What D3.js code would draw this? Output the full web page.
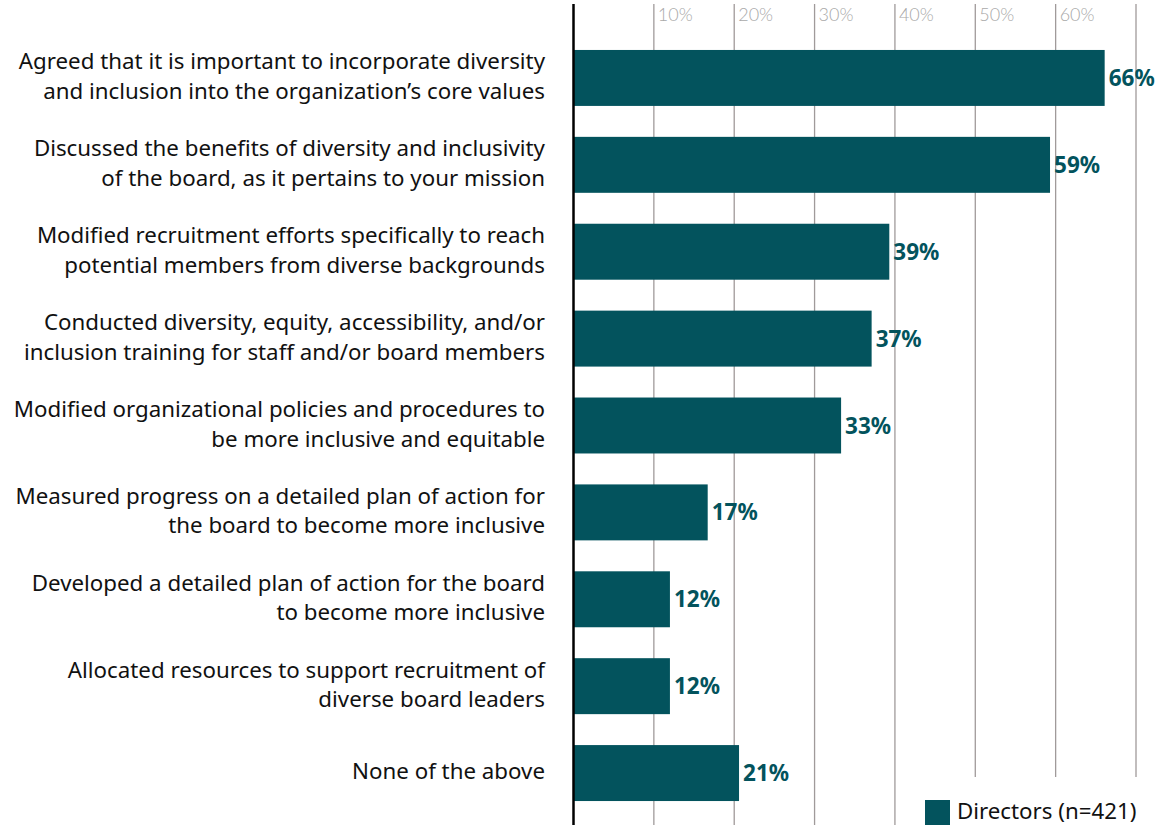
<!DOCTYPE html>
<html><head><meta charset="utf-8">
<script src="https://cdn.jsdelivr.net/npm/d3@7"></script>
<style>body{margin:0;background:#fff;} svg{display:block;}</style>
</head><body>
<svg id="chart" width="1158" height="827"></svg>
<script>
const categories = [
  ["Agreed that it is important to incorporate diversity", "and inclusion into the organization\u2019s core values"],
  ["Discussed the benefits of diversity and inclusivity", "of the board, as it pertains to your mission"],
  ["Modified recruitment efforts specifically to reach", "potential members from diverse backgrounds"],
  ["Conducted diversity, equity, accessibility, and/or", "inclusion training for staff and/or board members"],
  ["Modified organizational policies and procedures to", "be more inclusive and equitable"],
  ["Measured progress on a detailed plan of action for", "the board to become more inclusive"],
  ["Developed a detailed plan of action for the board", "to become more inclusive"],
  ["Allocated resources to support recruitment of", "diverse board leaders"],
  ["None of the above"]
];
const values = [66.1, 59.3, 39.3, 37.1, 33.3, 16.7, 12.0, 12.0, 20.6];
const tickValues = [10, 20, 30, 40, 50, 60, 70];
const tickLabels = ["10%", "20%", "30%", "40%", "50%", "60%", ""];
const seriesName = "Directors (n=421)";

const color = "#03535d";
const svg = d3.select("#chart");
const x = d3.scaleLinear().domain([0, 70]).range([573.5, 1136]);
const y = d3.scaleBand().domain(d3.range(categories.length)).range([34.5, 816.5]).paddingInner(0.356).paddingOuter(0.178);

// gridlines
svg.append("g").selectAll("line").data(tickValues).join("line")
  .attr("x1", d => x(d)).attr("x2", d => x(d))
  .attr("y1", 4).attr("y2", 825)
  .attr("stroke", "#a09a9a").attr("stroke-width", 1.3);
svg.append("g").selectAll("text").data(tickValues).join("text")
  .attr("x", d => x(d) + 4).attr("y", 20.5)
  .attr("font-family", "Lato, 'Noto Sans', sans-serif").attr("font-weight", 300)
  .attr("font-size", 18).attr("fill", "#a9a9a9")
  .text((d, i) => tickLabels[i]);

// bars
svg.append("g").selectAll("rect").data(values).join("rect")
  .attr("x", x(0)).attr("y", (d, i) => y(i))
  .attr("width", d => x(d) - x(0)).attr("height", y.bandwidth())
  .attr("fill", color);

// value labels
svg.append("g").selectAll("text").data(values).join("text")
  .attr("x", d => x(d) + 4).attr("y", (d, i) => y(i) + y.bandwidth() / 2)
  .attr("dy", "0.36em")
  .attr("font-family", "'Noto Sans', sans-serif").attr("font-weight", 700)
  .attr("font-size", 22.5).attr("fill", color).attr("letter-spacing", 0)
  .text(d => Math.round(d) + "%");

// category labels
const lab = svg.append("g").selectAll("text").data(categories).join("text")
  .attr("text-anchor", "end")
  .attr("font-family", "'Noto Sans', sans-serif").attr("font-size", 22.3).attr("fill", "#111");
lab.each(function(lines, i) {
  const cy = y(i) + y.bandwidth() / 2;
  const lh = 29.5;
  const t = d3.select(this);
  lines.forEach((ln, k) => {
    t.append("tspan").attr("x", 545)
      .attr("y", cy - 1.5 + (k - (lines.length - 1) / 2) * lh)
      .attr("dy", "0.35em").text(ln);
  });
});

// axis line
svg.append("line").attr("x1", 573.5).attr("x2", 573.5).attr("y1", 4).attr("y2", 825)
  .attr("stroke", "#000").attr("stroke-width", 2.5);

// legend
const lg = svg.append("g");
lg.append("rect").attr("x", 912).attr("y", 777).attr("width", 246).attr("height", 50).attr("fill", "#fff");
lg.append("rect").attr("x", 925).attr("y", 800).attr("width", 25).attr("height", 25).attr("fill", color);
lg.append("text").attr("x", 957).attr("y", 811.5).attr("dy", "0.35em")
  .attr("font-family", "'Noto Sans', sans-serif").attr("font-size", 22.3).attr("fill", "#111")
  .text(seriesName);
</script>
</body></html>
